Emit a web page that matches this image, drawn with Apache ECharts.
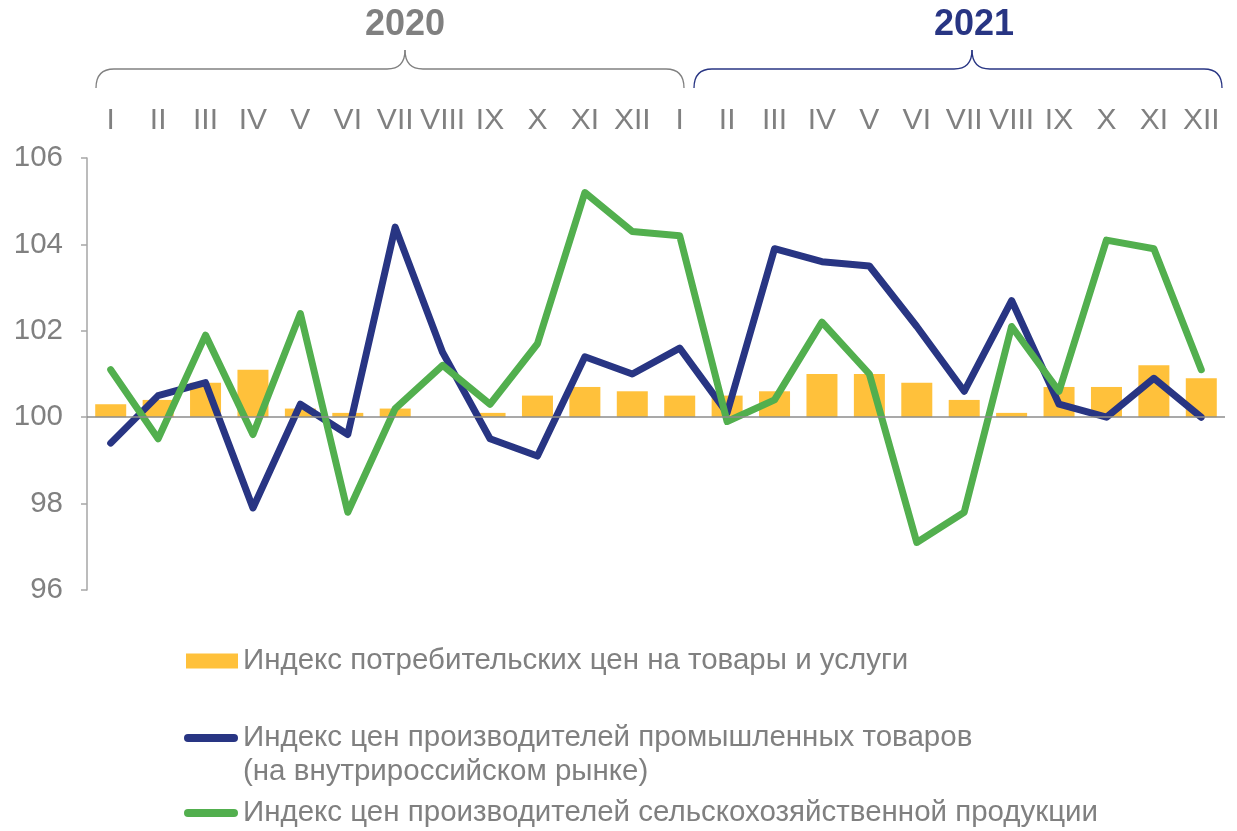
<!DOCTYPE html>
<html>
<head>
<meta charset="utf-8">
<script src="https://cdn.jsdelivr.net/npm/echarts@6/dist/echarts.min.js"></script>
<style>
html,body{margin:0;padding:0;background:#fff;}
#chart{width:1237px;height:831px;}
</style>
</head>
<body>
<div id="chart"></div>
<script>
const monthLabels = ['I','II','III','IV','V','VI','VII','VIII','IX','X','XI','XII',
                     'I','II','III','IV','V','VI','VII','VIII','IX','X','XI','XII'];
const years = ['2020', '2021'];
const cpi = [100.3,100.4,100.8,101.1,100.2,100.1,100.2,100.0,100.1,100.5,100.7,100.6,
             100.5,100.5,100.6,101.0,101.0,100.8,100.4,100.1,100.7,100.7,101.2,100.9];
const industrial = [99.4,100.5,100.8,97.9,100.3,99.6,104.4,101.5,99.5,99.1,101.4,101.0,
                    101.6,100.1,103.9,103.6,103.5,102.1,100.6,102.7,100.3,100.0,100.9,100.0];
const agricultural = [101.1,99.5,101.9,99.6,102.4,97.8,100.2,101.2,100.3,101.7,105.2,104.3,
                      104.2,99.9,100.4,102.2,101.0,97.1,97.8,102.1,100.6,104.1,103.9,101.1];
const yTicks = [96, 98, 100, 102, 104, 106];
const baseValue = 100;

const nameCpi = 'Индекс потребительских цен на товары и услуги';
const nameInd = 'Индекс цен производителей промышленных товаров';
const nameInd2 = '(на внутрироссийском рынке)';
const nameAgr = 'Индекс цен производителей сельскохозяйственной продукции';

const GRAY = '#808080';
const NAVY = '#283583';
const GREEN = '#52AF4E';
const YELLOW = '#FFC13B';
const FONT = 'Liberation Sans, Arial, sans-serif';
const LEG_FS = 29.5;

const chart = echarts.init(document.getElementById('chart'), null, {renderer: 'canvas'});

function brace(x0, x1, tip, yEnd, yMid, yTip, r, color) {
  const st = {stroke: color, lineWidth: 1.3, fill: null};
  return [
    {type: 'bezierCurve', shape: {x1: x0, y1: yEnd, x2: x0 + r, y2: yMid, cpx1: x0, cpy1: yMid}, style: st},
    {type: 'line', shape: {x1: x0 + r, y1: yMid, x2: tip - r, y2: yMid}, style: st},
    {type: 'bezierCurve', shape: {x1: tip - r, y1: yMid, x2: tip, y2: yTip, cpx1: tip, cpy1: yMid}, style: st},
    {type: 'bezierCurve', shape: {x1: tip, y1: yTip, x2: tip + r, y2: yMid, cpx1: tip, cpy1: yMid}, style: st},
    {type: 'line', shape: {x1: tip + r, y1: yMid, x2: x1 - r, y2: yMid}, style: st},
    {type: 'bezierCurve', shape: {x1: x1 - r, y1: yMid, x2: x1, y2: yEnd, cpx1: x1, cpy1: yMid}, style: st}
  ];
}

const lineIcon = 'path://M4,0 L50,0 A4,4 0 0 1 50,8 L4,8 A4,4 0 0 1 4,0 Z';

const option = {
  animation: false,
  backgroundColor: '#ffffff',
  textStyle: {fontFamily: FONT},
  grid: {left: 87, right: 12, top: 158, bottom: 241, containLabel: false},
  xAxis: {
    type: 'category',
    position: 'top',
    data: monthLabels,
    boundaryGap: true,
    axisLine: {show: false},
    axisTick: {show: false},
    axisLabel: {color: GRAY, fontSize: 30, fontFamily: FONT, margin: 22, interval: 0}
  },
  yAxis: [{
    type: 'value',
    min: yTicks[0], max: yTicks[yTicks.length - 1], interval: 2,
    axisLine: {show: true, lineStyle: {color: '#a6a6a6', width: 1.5}},
    axisTick: {show: true, length: 6, lineStyle: {color: '#a6a6a6', width: 1.5}},
    splitLine: {show: false},
    axisLabel: {color: GRAY, fontSize: 29.5, fontFamily: FONT, margin: 24}
  }, {
    type: 'value',
    min: yTicks[0] - baseValue, max: yTicks[yTicks.length - 1] - baseValue,
    show: false, splitLine: {show: false}
  }],
  legend: [{
    data: [nameCpi], left: 186, top: 646, padding: 0,
    icon: 'rect', itemWidth: 52, itemHeight: 15, itemGap: 5,
    textStyle: {color: GRAY, fontSize: LEG_FS, fontFamily: FONT},
    selectedMode: false
  }, {
    data: [nameInd], left: 184, top: 723, padding: 0,
    icon: lineIcon, itemWidth: 54, itemHeight: 8,
    textStyle: {color: GRAY, fontSize: LEG_FS, fontFamily: FONT},
    selectedMode: false
  }, {
    data: [nameAgr], left: 184, top: 798, padding: 0,
    icon: lineIcon, itemWidth: 54, itemHeight: 8,
    textStyle: {color: GRAY, fontSize: LEG_FS, fontFamily: FONT},
    selectedMode: false
  }],
  graphic: [
    {type: 'text', left: 243, top: 757, style: {text: nameInd2, fill: GRAY, fontSize: LEG_FS, fontFamily: FONT}},
    {type: 'text', x: 405, y: 25, style: {text: years[0], fill: GRAY, fontSize: 36, fontWeight: 'bold', fontFamily: FONT, textAlign: 'center', textVerticalAlign: 'middle'}},
    {type: 'text', x: 974, y: 25, style: {text: years[1], fill: NAVY, fontSize: 36, fontWeight: 'bold', fontFamily: FONT, textAlign: 'center', textVerticalAlign: 'middle'}}
  ].concat(brace(96, 684, 405, 88, 69, 50, 18, GRAY), brace(694, 1222, 972, 88, 69, 50, 18, NAVY)),
  series: [{
    name: nameCpi,
    type: 'bar',
    yAxisIndex: 1,
    data: cpi.map(v => +(v - baseValue).toFixed(2)),
    barWidth: 31,
    itemStyle: {color: YELLOW},
    markLine: {
      silent: true, symbol: 'none', label: {show: false},
      lineStyle: {color: '#8c8c8c', width: 1.6, type: 'solid'},
      data: [{yAxis: 0}]
    },
    z: 2
  }, {
    name: nameInd,
    type: 'line',
    data: industrial,
    symbol: 'none',
    lineStyle: {color: NAVY, width: 7, cap: 'round', join: 'round'},
    itemStyle: {color: NAVY},
    z: 3
  }, {
    name: nameAgr,
    type: 'line',
    data: agricultural,
    symbol: 'none',
    lineStyle: {color: GREEN, width: 7, cap: 'round', join: 'round'},
    itemStyle: {color: GREEN},
    z: 4
  }]
};
chart.setOption(option);
</script>
</body>
</html>
